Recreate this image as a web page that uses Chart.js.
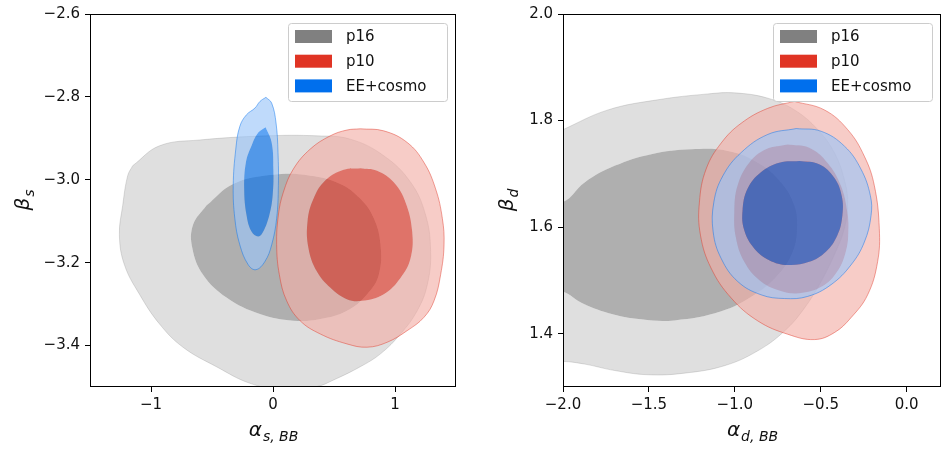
<!DOCTYPE html>
<html>
<head>
<meta charset="utf-8">
<script src="https://cdn.jsdelivr.net/npm/chart.js@4.4.1/dist/chart.umd.min.js"></script>
<style>
  html, body { margin: 0; padding: 0; background: #fff; }
  #wrap { position: relative; width: 944px; height: 450px; }
  canvas { position: absolute; top: 0; }
</style>
</head>
<body>
<div id="wrap">
  <canvas id="left" width="472" height="450" style="left:0"></canvas>
  <canvas id="right" width="472" height="450" style="left:472px"></canvas>
</div>
<script>
// legend entries
var seriesNames = ['p16', 'p10', 'EE+cosmo'];
var seriesColors = [[128, 128, 128], [224, 52, 36], [0, 111, 237]];

// tick values
var xTicksL = [-1, 0, 1];
var yTicksL = [-3.4, -3.2, -3.0, -2.8, -2.6];
var xTicksR = [-2.0, -1.5, -1.0, -0.5, 0.0];
var yTicksR = [1.4, 1.6, 1.8, 2.0];

// left panel contours (alpha_s,BB , beta_s)
var sP16Outer = [[-1.150,-2.966],[-0.930,-2.918],[-0.601,-2.904],[-0.052,-2.894],[0.359,-2.894],[0.634,-2.902],
  [0.908,-2.942],[1.128,-3.006],[1.251,-3.085],[1.292,-3.173],[1.265,-3.253],[1.182,-3.316],[1.045,-3.372],
  [0.881,-3.420],[0.716,-3.451],[0.497,-3.483],[0.359,-3.499],[0.085,-3.507],[-0.189,-3.491],[-0.464,-3.451],
  [-0.738,-3.404],[-0.930,-3.348],[-1.095,-3.276],[-1.218,-3.205],[-1.259,-3.133],[-1.232,-3.062],[-1.191,-2.990]];
var sP16Inner = [[-0.546,-3.062],[-0.326,-3.010],[0.003,-2.988],[0.305,-2.990],[0.551,-3.010],[0.716,-3.046],
  [0.826,-3.093],[0.881,-3.157],[0.867,-3.229],[0.771,-3.276],[0.606,-3.316],[0.387,-3.336],[0.167,-3.340],
  [-0.107,-3.324],[-0.381,-3.284],[-0.573,-3.229],[-0.661,-3.165],[-0.656,-3.109]];
var sP10Outer = [[0.716,-2.877],[0.908,-2.882],[1.100,-2.910],[1.237,-2.958],[1.333,-3.022],[1.388,-3.093],
  [1.402,-3.157],[1.374,-3.229],[1.320,-3.292],[1.237,-3.332],[1.100,-3.364],[0.936,-3.392],[0.771,-3.404],
  [0.606,-3.396],[0.387,-3.372],[0.222,-3.340],[0.112,-3.292],[0.052,-3.229],[0.030,-3.157],[0.044,-3.085],
  [0.085,-3.030],[0.167,-2.974],[0.305,-2.926],[0.469,-2.894],[0.606,-2.880]];
var sP10Inner = [[0.716,-2.972],[0.853,-2.978],[0.990,-3.006],[1.086,-3.054],[1.141,-3.125],[1.128,-3.189],
  [1.045,-3.237],[0.908,-3.276],[0.730,-3.292],[0.606,-3.288],[0.469,-3.260],[0.359,-3.221],[0.291,-3.165],
  [0.283,-3.101],[0.332,-3.046],[0.428,-3.002],[0.579,-2.976]];
var sEEOuter = [[-0.058,-2.801],[-0.011,-2.815],[0.025,-2.863],[0.041,-2.934],[0.044,-3.014],[0.030,-3.093],
  [-0.011,-3.157],[-0.066,-3.197],[-0.140,-3.217],[-0.203,-3.205],[-0.272,-3.157],[-0.313,-3.093],[-0.326,-3.014],
  [-0.305,-2.926],[-0.272,-2.871],[-0.217,-2.843],[-0.148,-2.827],[-0.107,-2.811]];
var sEEInner = [[-0.060,-2.873],[-0.011,-2.910],[0.003,-2.974],[-0.003,-3.038],[-0.030,-3.085],[-0.080,-3.125],
  [-0.121,-3.137],[-0.176,-3.125],[-0.217,-3.085],[-0.236,-3.022],[-0.222,-2.958],[-0.176,-2.918],[-0.121,-2.886]];

// right panel contours (alpha_d,BB , beta_d)
var dP16Outer = [[-2.126,1.346],[-2.0,1.348],[-1.874,1.343],[-1.700,1.331],[-1.506,1.323],[-1.293,1.326],
  [-1.060,1.340],[-0.866,1.368],[-0.711,1.405],[-0.595,1.448],[-0.498,1.498],[-0.421,1.548],[-0.363,1.597],
  [-0.343,1.647],[-0.363,1.690],[-0.421,1.740],[-0.517,1.783],[-0.653,1.820],[-0.808,1.842],[-1.002,1.852],
  [-1.157,1.850],[-1.448,1.839],[-1.738,1.820],[-2.0,1.783],[-2.126,1.764]];
var dP16Inner = [[-2.126,1.647],[-2.0,1.647],[-1.874,1.684],[-1.700,1.715],[-1.486,1.737],[-1.254,1.746],
  [-1.041,1.743],[-0.866,1.721],[-0.731,1.684],[-0.653,1.640],[-0.638,1.597],[-0.663,1.554],[-0.750,1.510],
  [-0.886,1.473],[-1.079,1.442],[-1.351,1.425],[-1.545,1.427],[-1.738,1.439],[-1.893,1.458],[-2.0,1.479],
  [-2.126,1.486]];
var dP10Outer = [[-0.653,1.836],[-0.479,1.820],[-0.343,1.783],[-0.246,1.733],[-0.188,1.678],[-0.159,1.597],
  [-0.169,1.535],[-0.227,1.473],[-0.324,1.430],[-0.421,1.402],[-0.537,1.389],[-0.692,1.399],[-0.866,1.424],
  [-1.021,1.467],[-1.138,1.523],[-1.200,1.585],[-1.206,1.647],[-1.167,1.709],[-1.079,1.758],[-0.963,1.795],
  [-0.808,1.823]];
var dP10Inner = [[-0.693,1.755],[-0.567,1.749],[-0.461,1.721],[-0.383,1.678],[-0.345,1.628],[-0.339,1.591],
  [-0.354,1.554],[-0.403,1.517],[-0.490,1.489],[-0.625,1.476],[-0.742,1.481],[-0.858,1.501],[-0.945,1.535],
  [-0.993,1.579],[-1.003,1.628],[-0.984,1.678],[-0.916,1.721],[-0.819,1.746]];
var dEEOuter = [[-0.643,1.785],[-0.498,1.780],[-0.362,1.752],[-0.266,1.709],[-0.211,1.659],[-0.207,1.622],
  [-0.246,1.572],[-0.324,1.529],[-0.440,1.492],[-0.576,1.470],[-0.711,1.466],[-0.847,1.473],[-0.983,1.498],
  [-1.079,1.541],[-1.126,1.591],[-1.122,1.647],[-1.070,1.696],[-0.963,1.740],[-0.808,1.774]];
var dEEInner = [[-0.625,1.724],[-0.509,1.718],[-0.422,1.693],[-0.378,1.659],[-0.374,1.622],[-0.403,1.585],
  [-0.470,1.554],[-0.567,1.535],[-0.693,1.529],[-0.800,1.538],[-0.887,1.560],[-0.945,1.594],[-0.955,1.631],
  [-0.926,1.672],[-0.848,1.703],[-0.742,1.721]];

var FONT = '"DejaVu Sans", sans-serif';
var ALPHA = 0.63;

function fmt(v, dec) {
  return v.toFixed(dec).replace('-', '\u2212');
}

function rgba(c, a) {
  return 'rgba(' + c.join(',') + ',' + a + ')';
}

function pale(c) {
  return c.map(function (v) { return Math.round(v * 0.4 + 255 * 0.6); });
}

function closed(pts) {
  var d = pts.map(function (p) { return { x: p[0], y: p[1] }; });
  d.push({ x: pts[0][0], y: pts[0][1] });
  return d;
}

// outer band = outer contour minus inner one, inner band = inner contour
function contourSets(groups) {
  var sets = [];
  groups.forEach(function (g, i) {
    var c = seriesColors[i];
    var n = sets.length;
    sets.push({
      label: seriesNames[i], data: closed(g[0]), fill: false, order: 10 - n,
      band: rgba(pale(c), ALPHA), hole: n + 1,
      borderColor: rgba(c, i === 0 ? 0.25 : 0.45), borderWidth: 1, pointRadius: 0, tension: 0.4
    });
    sets.push({
      label: seriesNames[i], data: closed(g[1]), fill: false, order: 9 - n,
      band: rgba(c, ALPHA),
      borderColor: rgba(c, 0), borderWidth: 0, pointRadius: 0, tension: 0.4
    });
  });
  return sets;
}

var bandPlugin = {
  id: 'bands',
  beforeDatasetDraw: function (chart, args) {
    var ds = chart.data.datasets[args.index];
    if (!ds.band) return;
    var a = chart.chartArea, ctx = chart.ctx;
    var line = args.meta.dataset;
    line.updateControlPoints(a, 'x');
    ctx.save();
    ctx.beginPath();
    ctx.rect(a.left, a.top, a.right - a.left, a.bottom - a.top);
    ctx.clip();
    ctx.beginPath();
    line.path(ctx);
    if (ds.hole != null) {
      var h = chart.getDatasetMeta(ds.hole).dataset;
      h.updateControlPoints(a, 'x');
      h.path(ctx);
    }
    ctx.fillStyle = ds.band;
    ctx.fill('evenodd');
    ctx.restore();
  }
};

// frame, legend box and math axis labels
var decorPlugin = {
  id: 'decor',
  afterDraw: function (chart) {
    var o = chart.options.plugins.decor;
    var a = chart.chartArea;
    var ctx = chart.ctx;
    ctx.save();
    ctx.strokeStyle = '#000';
    ctx.lineWidth = 1;
    ctx.strokeRect(a.left + 0.5, a.top + 0.5, a.right - a.left - 1, a.bottom - a.top - 1);

    // legend
    var bw = 159, bh = 78;
    var bx = a.right - 9 - bw, by = a.top + 9;
    ctx.fillStyle = 'rgba(255,255,255,0.8)';
    ctx.strokeStyle = '#cccccc';
    ctx.beginPath();
    ctx.roundRect(bx + 0.5, by + 0.5, bw, bh, 3);
    ctx.fill();
    ctx.stroke();
    ctx.font = '15px ' + FONT;
    ctx.textBaseline = 'middle';
    seriesNames.forEach(function (n, i) {
      var cy = by + 13.5 + i * 24.7;
      ctx.fillStyle = rgba(seriesColors[i], 1);
      ctx.fillRect(bx + 7, cy - 6.5, 37, 13);
      ctx.fillStyle = '#111';
      ctx.fillText(n, bx + 58, cy + 1);
    });

    // x label
    ctx.fillStyle = '#111';
    ctx.textBaseline = 'alphabetic';
    var big = 'oblique 20px ' + FONT, small = 'oblique 14px ' + FONT;
    ctx.font = big;
    var w1 = ctx.measureText(o.sym).width;
    ctx.font = small;
    var w2 = ctx.measureText(o.xsub).width;
    var x0 = (a.left + a.right) / 2 - (w1 + w2) / 2;
    ctx.font = big;
    ctx.fillText(o.sym, x0, 436);
    ctx.font = small;
    ctx.fillText(o.xsub, x0 + w1 + 1, 441);

    // y label
    ctx.translate(o.ylabelX, (a.top + a.bottom) / 2);
    ctx.rotate(-Math.PI / 2);
    ctx.font = big;
    var w3 = ctx.measureText('\u03b2').width;
    ctx.font = small;
    var w4 = ctx.measureText(o.ysub).width;
    var y0 = -(w3 + w4) / 2;
    ctx.font = big;
    ctx.fillText('\u03b2', y0, 7);
    ctx.font = small;
    ctx.fillText(o.ysub, y0 + w3 + 1, 12);
    ctx.restore();
  }
};

function makeChart(id, groups, xr, yr, xt, yt, xdec, ydec, padRight, yWidth, labels) {
  return new Chart(document.getElementById(id), {
    type: 'line',
    data: { datasets: contourSets(groups) },
    options: {
      responsive: false,
      animation: false,
      devicePixelRatio: 1,
      layout: { padding: { left: 0, right: padRight, top: 10, bottom: 0 } },
      plugins: {
        legend: { display: false },
        tooltip: { enabled: false },
        decor: labels
      },
      scales: {
        x: {
          type: 'linear', min: xr[0], max: xr[1],
          afterBuildTicks: function (s) { s.ticks = xt.map(function (v) { return { value: v }; }); },
          afterFit: function (s) { s.height = 63; },
          grid: { drawOnChartArea: false, drawTicks: true, tickLength: 5, tickColor: '#000', color: '#000' },
          border: { display: false },
          ticks: {
            padding: 4, color: '#111', font: { family: FONT, size: 15 }, maxRotation: 0,
            callback: function (v) { return fmt(v, xdec); }
          }
        },
        y: {
          type: 'linear', min: yr[0], max: yr[1],
          afterBuildTicks: function (s) { s.ticks = yt.map(function (v) { return { value: v }; }); },
          afterFit: function (s) { s.width = yWidth; },
          grid: { drawOnChartArea: false, drawTicks: true, tickLength: 5, tickColor: '#000', color: '#000' },
          border: { display: false },
          ticks: {
            padding: 5, color: '#111', font: { family: FONT, size: 15 },
            callback: function (v) { return fmt(v, ydec); }
          }
        }
      }
    },
    plugins: [bandPlugin, decorPlugin]
  });
}

makeChart('left',
  [[sP16Outer, sP16Inner], [sP10Outer, sP10Inner], [sEEOuter, sEEInner]],
  [-1.5, 1.5], [-3.5, -2.6], xTicksL, yTicksL, 0, 1, 16, 90,
  { sym: '\u03b1', xsub: 's, BB', ysub: 's', ylabelX: 22 });

makeChart('right',
  [[dP16Outer, dP16Inner], [dP10Outer, dP10Inner], [dEEOuter, dEEInner]],
  [-2.0, 0.2], [1.3, 2.0], xTicksR, yTicksR, 1, 1, 3, 91,
  { sym: '\u03b1', xsub: 'd, BB', ysub: 'd', ylabelX: 34 });
</script>
</body>
</html>
